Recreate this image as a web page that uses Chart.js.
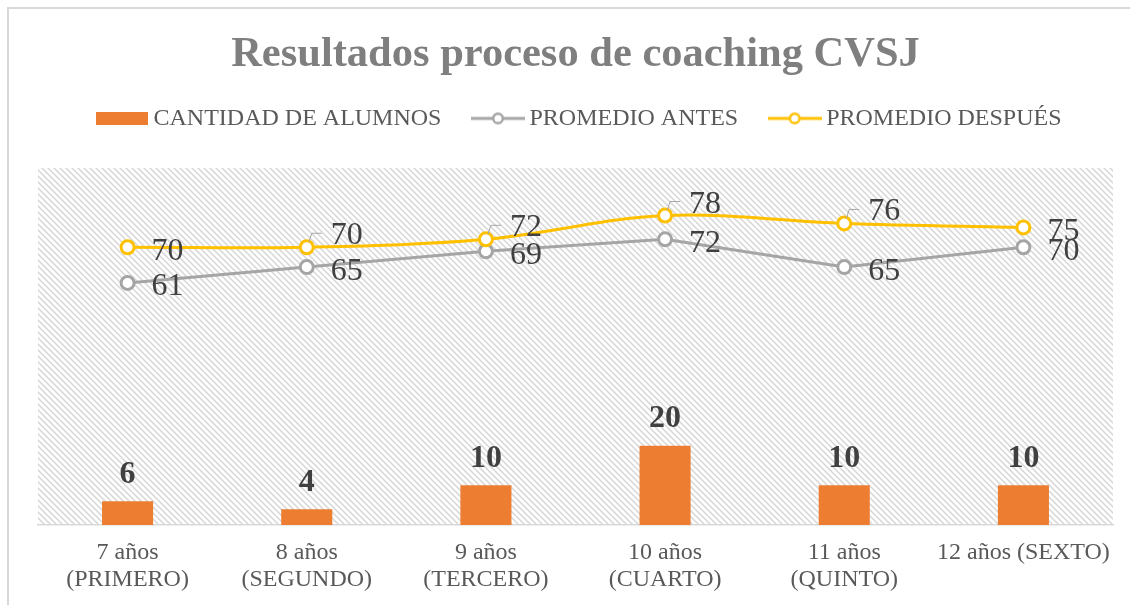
<!DOCTYPE html>
<html>
<head>
<meta charset="utf-8">
<script src="https://cdn.jsdelivr.net/npm/chart.js"></script>
<style>
  html, body { margin: 0; padding: 0; background: #ffffff; }
  #wrap { position: relative; width: 1130px; height: 605px; }
</style>
</head>
<body>
<div id="wrap"><canvas id="c" width="1130" height="605"></canvas></div>
<script>
// ---- data ----
const categories = [
  ["7 años", "(PRIMERO)"],
  ["8 años", "(SEGUNDO)"],
  ["9 años", "(TERCERO)"],
  ["10 años", "(CUARTO)"],
  ["11 años", "(QUINTO)"],
  "12 años (SEXTO)"
];
const seriesNames = ["CANTIDAD DE ALUMNOS", "PROMEDIO ANTES", "PROMEDIO DESPUÉS"];
const cantidadAlumnos = [6, 4, 10, 20, 10, 10];
const promedioAntes = [61, 65, 69, 72, 65, 70];
const promedioDespues = [70, 70, 72, 78, 76, 75];

// ---- styles ----
const ORANGE = '#ed7d31', GRAY = '#a5a5a5', YELLOW = '#ffc000';
const SERIF = '"Liberation Serif", "Times New Roman", serif';
const LABEL_COLOR = '#404040';

function lineIcon(color) {
  const c = document.createElement('canvas');
  c.width = 54; c.height = 14;
  const g = c.getContext('2d');
  g.strokeStyle = color; g.lineWidth = 3;
  g.beginPath(); g.moveTo(0, 7); g.lineTo(54, 7); g.stroke();
  g.beginPath(); g.arc(27, 7, 4.8, 0, Math.PI * 2);
  g.fillStyle = '#ffffff'; g.fill();
  g.lineWidth = 2.4; g.stroke();
  return c;
}
function boxIcon(color) {
  const c = document.createElement('canvas');
  c.width = 52; c.height = 13;
  const g = c.getContext('2d');
  g.fillStyle = color; g.fillRect(0, 0, 52, 13);
  return c;
}
const legendIcons = [boxIcon(ORANGE), lineIcon(GRAY), lineIcon(YELLOW)];

function hatchPattern(ctx) {
  const t = document.createElement('canvas');
  t.width = 6; t.height = 6;
  const g = t.getContext('2d');
  g.fillStyle = '#ffffff'; g.fillRect(0, 0, 6, 6);
  g.strokeStyle = '#d6d6d6'; g.lineWidth = 1.5;
  g.beginPath();
  g.moveTo(-1, -1); g.lineTo(7, 7);
  g.moveTo(-1, 5); g.lineTo(1, 7);
  g.moveTo(5, -1); g.lineTo(7, 1);
  g.stroke();
  return ctx.createPattern(t, 'repeat');
}

const decorPlugin = {
  id: 'decor',
  afterLayout(chart) {
    // nudge legend row to the right to match the reference placement
    if (chart.legend) { chart.legend.left += 6.5; chart.legend.right += 6.5; }
  },
  beforeDraw(chart) {
    const ctx = chart.ctx, a = chart.chartArea;
    ctx.save();
    ctx.fillStyle = '#d9d9d9';
    ctx.fillRect(7, 7, chart.width - 7, 2);
    ctx.fillRect(7, 7, 2, chart.height - 7);
    ctx.fillStyle = hatchPattern(ctx);
    ctx.fillRect(a.left, a.top, a.right - a.left, a.bottom - a.top);
    ctx.restore();
  },
  afterDatasetsDraw(chart) {
    const ctx = chart.ctx;
    ctx.save();
    ctx.fillStyle = LABEL_COLOR;
    ctx.textBaseline = 'alphabetic';
    // bar labels
    ctx.font = 'bold 32px ' + SERIF;
    ctx.textAlign = 'center';
    chart.getDatasetMeta(0).data.forEach((el, i) => {
      ctx.fillText(String(cantidadAlumnos[i]), el.x, el.y - 18.5);
    });
    // line labels
    ctx.font = '32px ' + SERIF;
    ctx.textAlign = 'left';
    chart.getDatasetMeta(1).data.forEach((el, i) => {
      ctx.fillText(String(promedioAntes[i]), el.x + 24, el.y + 12.5);
    });
    const yMeta = chart.getDatasetMeta(2).data;
    yMeta.forEach((el, i) => {
      const raised = i > 0 && i < yMeta.length - 1;
      if (raised) {
        ctx.strokeStyle = '#a6a6a6';
        ctx.lineWidth = 1;
        ctx.beginPath();
        ctx.moveTo(el.x + 2, el.y - 5);
        ctx.lineTo(el.x + 5, el.y - 14);
        ctx.lineTo(el.x + 15, el.y - 14);
        ctx.stroke();
        ctx.fillText(String(promedioDespues[i]), el.x + 24, el.y - 3);
      } else {
        ctx.fillText(String(promedioDespues[i]), el.x + 24, el.y + 12.5);
      }
    });
    ctx.restore();
  }
};

new Chart(document.getElementById('c'), {
  data: {
    labels: categories,
    datasets: [
      {
        type: 'bar', label: seriesNames[0], data: cantidadAlumnos,
        backgroundColor: ORANGE, borderWidth: 0,
        barPercentage: 0.285, categoryPercentage: 1, xAxisID: 'x', order: 3
      },
      {
        type: 'line', label: seriesNames[1], data: promedioAntes,
        borderColor: GRAY, borderWidth: 3, tension: 0,
        pointRadius: 6.5, pointBorderWidth: 3, pointBackgroundColor: '#ffffff',
        pointBorderColor: GRAY, xAxisID: 'x', order: 2
      },
      {
        type: 'line', label: seriesNames[2], data: promedioDespues,
        borderColor: YELLOW, borderWidth: 3, tension: 0.35,
        pointRadius: 6.5, pointBorderWidth: 3, pointBackgroundColor: '#ffffff',
        pointBorderColor: YELLOW, xAxisID: 'x', order: 1
      }
    ]
  },
  options: {
    responsive: false,
    animation: false,
    devicePixelRatio: 1,
    layout: { padding: { left: 38, right: 17, top: 0, bottom: 10 } },
    plugins: {
      tooltip: { enabled: false },
      title: {
        display: true,
        text: 'Resultados proceso de coaching CVSJ',
        color: '#7f7f7f',
        font: { family: SERIF, size: 42.5, weight: 'bold', lineHeight: 0.68 },
        padding: { top: 40.5, bottom: 0 }
      },
      legend: {
        display: true,
        position: 'top',
        labels: {
          usePointStyle: true,
          pointStyleWidth: 39,
          padding: 37,
          color: '#595959',
          font: { family: SERIF, size: 24 },
          sort: (a, b) => a.datasetIndex - b.datasetIndex,
          generateLabels(chart) {
            const items = Chart.defaults.plugins.legend.labels.generateLabels(chart);
            items.forEach((it) => { it.pointStyle = legendIcons[it.datasetIndex]; });
            return items;
          }
        }
      }
    },
    scales: {
      x: {
        type: 'category',
        position: 'bottom',
        offset: true,
        grid: { display: false, drawTicks: false },
        border: { display: true, color: '#d9d9d9', width: 1.5 },
        ticks: {
          color: '#595959',
          padding: 15,
          maxRotation: 0,
          autoSkip: false,
          font: { family: SERIF, size: 24, lineHeight: 1.1 }
        },
        afterFit(s) { s.height = 70; }
      },
      xSpacer: {
        type: 'category',
        position: 'top',
        display: true,
        grid: { display: false, drawTicks: false },
        border: { display: false },
        ticks: { display: false },
        afterFit(s) { s.height = 27.5; }
      },
      y: {
        type: 'linear',
        display: false,
        min: 0,
        max: 90
      }
    }
  },
  plugins: [decorPlugin]
});
</script>
</body>
</html>
